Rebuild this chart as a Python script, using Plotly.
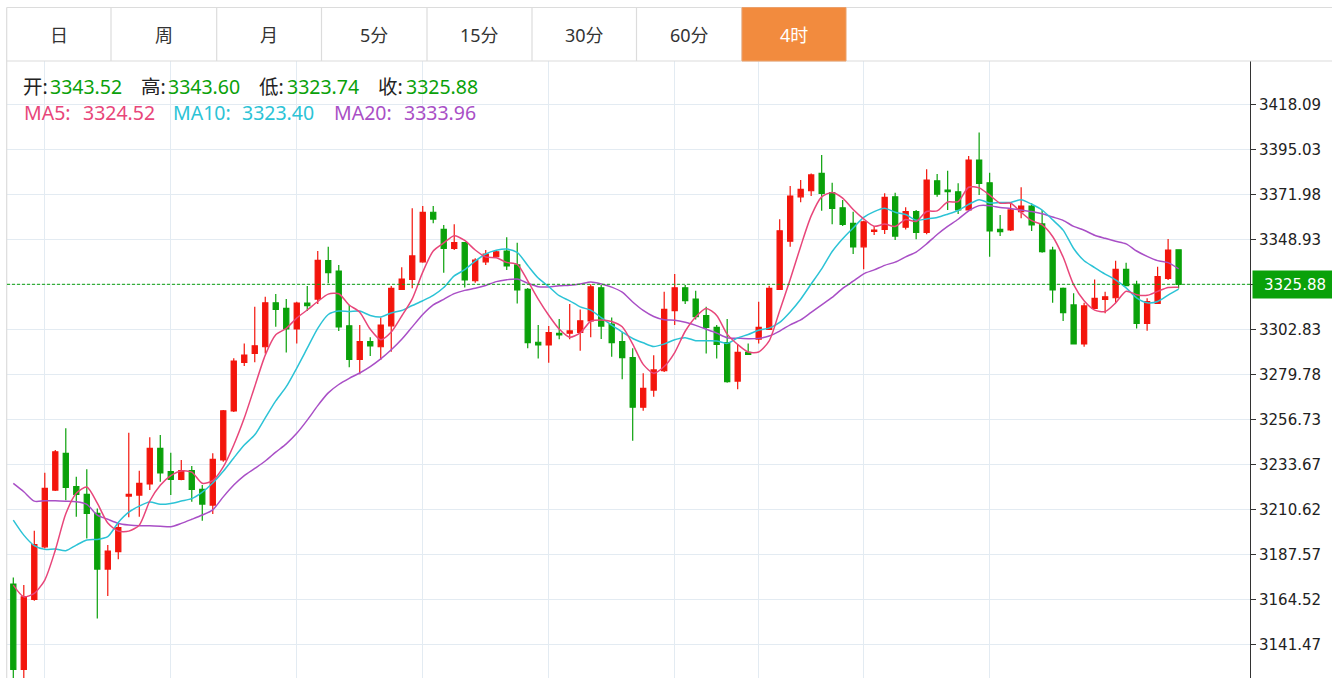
import plotly.graph_objects as go
import pandas as pd

# ---------------- data ----------------
opens = [3172.3, 3128.6, 3164.5, 3191.4, 3220.5, 3239.3, 3222.2, 3218.3, 3208.5, 3180.0,
         3188.9, 3217.4, 3217.9, 3223.6, 3241.8, 3229.9, 3226.0, 3230.4, 3220.8, 3212.8,
         3235.9, 3261.0, 3285.9, 3290.5, 3293.9, 3316.4, 3313.6, 3303.0, 3316.3, 3318.3,
         3338.0, 3332.7, 3304.6, 3287.4, 3296.5, 3293.9, 3304.6, 3323.3, 3328.4, 3337.4,
         3362.8, 3354.0, 3344.3, 3347.2, 3327.7, 3337.4, 3340.0, 3342.9, 3335.8, 3323.3,
         3296.2, 3294.8, 3300.8, 3300.8, 3301.3, 3307.1, 3324.1, 3305.5, 3296.5, 3288.3,
         3262.9, 3271.7, 3281.6, 3312.4, 3324.1, 3318.3, 3309.8, 3303.8, 3296.0, 3276.3,
         3291.0, 3297.8, 3302.8, 3323.3, 3348.0, 3370.7, 3373.8, 3382.7, 3372.8, 3365.1,
         3357.1, 3345.1, 3353.0, 3354.0, 3370.7, 3355.1, 3363.1, 3352.5, 3378.9, 3374.2,
         3373.3, 3364.0, 3389.5, 3377.9, 3354.0, 3353.7, 3363.1, 3366.0, 3356.8, 3343.4,
         3323.8, 3315.3, 3295.3, 3313.6, 3318.2, 3319.0, 3333.5, 3325.9, 3305.9, 3316.1,
         3328.9, 3343.52]
highs = [3175.7, 3171.8, 3199.6, 3229.3, 3241.0, 3252.1, 3227.3, 3231.1, 3211.1, 3192.3,
         3203.1, 3249.8, 3230.4, 3247.5, 3248.7, 3239.6, 3235.9, 3232.8, 3223.1, 3239.3,
         3261.5, 3288.0, 3295.6, 3314.4, 3319.5, 3320.9, 3318.3, 3317.0, 3325.0, 3342.9,
         3345.1, 3335.8, 3315.3, 3305.0, 3298.7, 3308.9, 3325.0, 3334.6, 3364.8, 3366.0,
         3366.0, 3356.3, 3356.6, 3347.5, 3339.2, 3343.4, 3343.4, 3350.0, 3347.2, 3324.0,
         3305.0, 3304.5, 3308.1, 3315.8, 3313.0, 3325.9, 3325.5, 3308.9, 3301.6, 3293.1,
         3280.3, 3289.6, 3322.1, 3331.1, 3325.5, 3322.6, 3314.4, 3305.0, 3308.1, 3295.3,
         3295.6, 3316.9, 3325.2, 3359.2, 3376.2, 3379.3, 3382.7, 3392.1, 3377.9, 3369.1,
         3363.1, 3358.5, 3355.7, 3372.5, 3372.8, 3365.3, 3364.0, 3384.8, 3382.4, 3384.1,
         3377.6, 3391.6, 3403.7, 3383.0, 3361.4, 3367.7, 3375.6, 3367.4, 3364.0, 3345.1,
         3324.3, 3321.3, 3316.4, 3328.4, 3322.1, 3338.0, 3336.9, 3327.7, 3318.7, 3334.9,
         3349.1, 3343.60]
lows = [3123.0, 3123.0, 3163.8, 3190.6, 3220.0, 3215.3, 3206.8, 3195.7, 3154.7, 3166.2,
        3185.0, 3206.5, 3206.8, 3220.5, 3224.7, 3217.9, 3225.5, 3214.5, 3204.8, 3208.2,
        3235.0, 3260.5, 3284.0, 3285.9, 3290.5, 3304.1, 3291.0, 3295.6, 3312.2, 3315.8,
        3326.4, 3302.0, 3283.4, 3279.8, 3289.1, 3287.1, 3291.3, 3323.0, 3323.8, 3336.9,
        3357.1, 3331.8, 3343.4, 3324.3, 3326.7, 3335.8, 3339.7, 3333.2, 3316.1, 3293.1,
        3287.9, 3285.7, 3297.7, 3297.7, 3291.9, 3298.7, 3297.8, 3288.8, 3277.2, 3245.7,
        3261.1, 3268.3, 3281.0, 3305.0, 3315.8, 3307.9, 3290.5, 3287.9, 3275.5, 3272.1,
        3289.8, 3295.6, 3302.5, 3323.0, 3345.1, 3367.9, 3371.1, 3363.6, 3356.6, 3355.7,
        3341.4, 3333.6, 3351.1, 3351.6, 3348.6, 3354.0, 3348.9, 3351.5, 3370.7, 3364.0,
        3361.9, 3363.5, 3371.6, 3340.0, 3350.6, 3353.2, 3359.7, 3353.2, 3342.0, 3316.4,
        3307.1, 3295.0, 3293.9, 3313.3, 3311.0, 3316.4, 3325.0, 3303.3, 3302.1, 3316.0,
        3328.1, 3323.74]
closes = [3128.6, 3165.8, 3192.6, 3221.3, 3240.1, 3221.8, 3218.3, 3208.5, 3180.0, 3189.2,
          3201.2, 3218.3, 3223.9, 3241.8, 3229.3, 3226.0, 3230.4, 3220.8, 3213.3, 3236.2,
          3261.1, 3286.6, 3289.6, 3294.4, 3316.4, 3313.0, 3303.0, 3316.3, 3314.9, 3338.2,
          3331.8, 3304.1, 3287.4, 3296.5, 3294.3, 3305.0, 3323.8, 3328.6, 3340.4, 3362.8,
          3359.3, 3344.3, 3347.2, 3328.1, 3338.3, 3341.4, 3342.5, 3335.3, 3323.0, 3296.0,
          3294.8, 3301.1, 3299.9, 3302.0, 3307.2, 3324.6, 3304.5, 3296.0, 3288.3, 3262.9,
          3272.6, 3282.0, 3313.0, 3324.1, 3317.5, 3309.3, 3303.8, 3295.1, 3276.0, 3291.0,
          3290.0, 3303.8, 3323.8, 3353.3, 3371.1, 3374.5, 3381.9, 3372.5, 3364.8, 3356.6,
          3345.1, 3357.9, 3353.6, 3370.4, 3350.6, 3363.1, 3352.5, 3379.3, 3372.0, 3373.3,
          3364.0, 3389.5, 3377.6, 3353.3, 3352.8, 3364.0, 3366.0, 3356.3, 3342.6, 3323.0,
          3311.3, 3295.3, 3314.8, 3318.7, 3319.5, 3333.5, 3325.2, 3305.9, 3317.0, 3329.8,
          3343.4, 3325.88]

# moving-average values at the start of the window (their history is off-screen)
ma5_head = [3171.8, 3165.8, 3167.6, 3174.4]
ma10_head = [3205.1, 3197.4, 3192.0, 3190.1, 3190.3, 3189.4, 3192.3, 3194.9, 3195.2]
ma20_head = [3223.9, 3219.6, 3214.8, 3215.0, 3215.0, 3214.8, 3214.5, 3213.2, 3207.7, 3205.5,
             3203.4, 3202.6, 3202.2, 3202.2, 3202.0, 3201.7, 3203.4, 3205.5, 3207.7]

y_ticks = [3141.47, 3164.52, 3187.57, 3210.62, 3233.67, 3256.73, 3279.78, 3302.83,
           3325.88, 3348.93, 3371.98, 3395.03, 3418.09]
day_breaks = [3, 15, 27, 39, 51, 63, 71, 81, 93]

tabs = ["日", "周", "月", "5分", "15分", "30分", "60分", "4时"]
active_tab = 7

ohlc_labels = [("开:", "3343.52"), ("高:", "3343.60"), ("低:", "3323.74"), ("收:", "3325.88")]
ma_labels = [("MA5:", "3324.52"), ("MA10:", "3323.40"), ("MA20:", "3333.96")]
last_price = 3325.88

# ---------------- styling ----------------
W, H = 1332, 678
ML, MR, MT, MB = 7, 82, 61, 0
PW, PH = W - ML - MR, H - MT - MB

RED = "#F3150C"
GREEN = "#0AA10A"
C_MA5 = "#E8467A"
C_MA10 = "#2CC3D6"
C_MA20 = "#A94FC6"
GRID = "#E3EBF2"
BORDER = "#DCDCDC"
ORANGE = "#F28B3E"
TXT = "#222222"
CJK = "Noto Sans, Noto Sans CJK SC, sans-serif"
AXF = "DejaVu Sans, Verdana, sans-serif"
HFS = 19.5


def px(x):
    return (x - ML) / PW


def py(y):
    return (H - MB - y) / PH


n = len(closes)
idx = list(range(n))
cs = pd.Series(closes)


def ma(period, head):
    s = cs.rolling(period).mean().tolist()
    for i, v in enumerate(head):
        s[i] = v
    return s


fig = go.Figure()
fig.add_trace(go.Candlestick(
    x=idx, open=opens, high=highs, low=lows, close=closes,
    increasing=dict(line=dict(color=RED, width=1.2), fillcolor=RED),
    decreasing=dict(line=dict(color=GREEN, width=1.2), fillcolor=GREEN),
    whiskerwidth=0, hoverinfo="skip", showlegend=False,
))
for per, head, col in [(20, ma20_head, C_MA20), (10, ma10_head, C_MA10), (5, ma5_head, C_MA5)]:
    fig.add_trace(go.Scatter(
        x=idx, y=ma(per, head), mode="lines",
        line=dict(color=col, width=1.5, shape="spline", smoothing=0.7),
        hoverinfo="skip", showlegend=False,
    ))

shapes = []
# tab bar frame
shapes.append(dict(type="line", xref="paper", yref="paper", x0=px(6.7), x1=px(W + 5),
                   y0=py(7.5), y1=py(7.5), line=dict(color=BORDER, width=1.2)))
shapes.append(dict(type="line", xref="paper", yref="paper", x0=px(6.7), x1=px(W + 5),
                   y0=py(61), y1=py(61), line=dict(color=BORDER, width=1.2)))
shapes.append(dict(type="line", xref="paper", yref="paper", x0=px(6.7), x1=px(6.7),
                   y0=py(7.5), y1=py(H + 5), line=dict(color=BORDER, width=1.2)))
tab_edges = [6.7, 111, 216.7, 321.5, 427, 532, 636.5, 742, 846]
for e in tab_edges[1:-1]:
    shapes.append(dict(type="line", xref="paper", yref="paper", x0=px(e), x1=px(e),
                       y0=py(7.5), y1=py(61), line=dict(color=BORDER, width=1.2)))
# active tab
x0a, x1a = px(tab_edges[active_tab]), px(tab_edges[active_tab + 1])
shapes.append(dict(type="rect", xref="paper", yref="paper", x0=x0a, x1=x1a,
                   y0=py(61), y1=py(7.5), fillcolor=ORANGE, line=dict(color="#EBA06A", width=1)))
# last price dashed line
shapes.append(dict(type="line", xref="paper", yref="y", x0=0, x1=1, y0=last_price, y1=last_price,
                   line=dict(color=GREEN, width=1, dash="3px,2px"), layer="above"))

ann = []
for i, t in enumerate(tabs):
    cx = (tab_edges[i] + tab_edges[i + 1]) / 2
    ann.append(dict(text=t, xref="paper", yref="paper", x=px(cx), y=py(35),
                    xanchor="center", yanchor="middle", showarrow=False,
                    font=dict(family=CJK, size=18, color="#FFFFFF" if i == active_tab else "#333333")))


def label(text, x, y, color):
    ann.append(dict(text=text, xref="paper", yref="paper", x=px(x - 1), y=py(y),
                    xanchor="left", yanchor="middle", showarrow=False,
                    font=dict(family=CJK, size=HFS, color=color)))


ohlc_kx = [21.5, 140, 258, 377]
ohlc_vx = [49, 167, 286, 405]
for (k, v), kx, vx in zip(ohlc_labels, ohlc_kx, ohlc_vx):
    label(k, kx, 86, TXT)
    label(v, vx, 86, GREEN)

ma_kx = [23, 171.5, 333]
ma_vx = [81.5, 241, 403]
for (k, v), kx, vx, col in zip(ma_labels, ma_kx, ma_vx, [C_MA5, C_MA10, C_MA20]):
    label(k, kx, 113, col)
    label(v, vx, 113, col)

# last price tag (replaces the plain tick label at that level)
ann.append(dict(text=f"{last_price:.2f}", xref="paper", yref="y", x=px(1252.5), y=last_price,
                xanchor="left", yanchor="middle", showarrow=False, width=84, height=27,
                borderpad=0, bgcolor=GREEN, align="center",
                font=dict(family=AXF, size=15, color="#FFFFFF")))

tick_text = ["" if abs(v - last_price) < 1e-6 else f"{v:.2f}" for v in y_ticks]

fig.update_layout(
    width=W, height=H, autosize=False,
    margin=dict(l=ML, r=MR, t=MT, b=MB, pad=0),
    paper_bgcolor="white", plot_bgcolor="white",
    shapes=shapes, annotations=ann, showlegend=False,
    xaxis=dict(range=[-0.6, 117.8], tickvals=day_breaks, showticklabels=False, ticks="",
               showgrid=True, gridcolor=GRID, gridwidth=1.2, zeroline=False, showline=False,
               rangeslider=dict(visible=False), fixedrange=True),
    yaxis=dict(side="right", range=[3124.21, 3440.27], tickvals=y_ticks,
               ticktext=tick_text,
               showgrid=True, gridcolor=GRID, gridwidth=1.2, zeroline=False,
               showline=True, linecolor="#333333", linewidth=1,
               ticks="outside", ticklen=5, tickcolor="#333333",
               tickfont=dict(family=AXF, size=15, color="#222222"), fixedrange=True),
)

fig.write_html("out.html", config={"displayModeBar": False},
               post_script="document.body.style.margin='0';document.body.style.overflow='hidden';")
